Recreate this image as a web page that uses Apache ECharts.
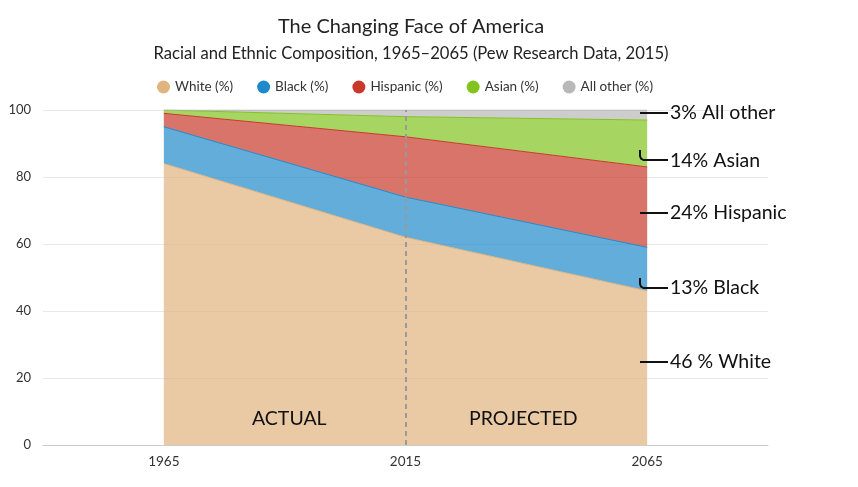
<!DOCTYPE html>
<html>
<head>
<meta charset="utf-8">
<script src="https://cdn.jsdelivr.net/npm/echarts@6/dist/echarts.min.js"></script>
<style>
  html, body { margin: 0; padding: 0; background: #fff; }
  #main { width: 858px; height: 487px; }
</style>
</head>
<body>
<div id="main"></div>
<script>
var years = ['1965', '2015', '2065'];
var white = [84, 62, 46];
var black = [11, 12, 13];
var hispanic = [4, 18, 24];
var asian = [1, 6, 14];
var other = [0, 2, 3];

var font = 'Lato, "Noto Sans", sans-serif';
var myChart = echarts.init(document.getElementById('main'));

function layer(name, data, color) {
  return {
    name: name,
    type: 'line',
    stack: 'total',
    data: data,
    symbol: 'none',
    lineStyle: { width: 1, color: color },
    itemStyle: { color: color },
    areaStyle: { color: color, opacity: 0.7 }
  };
}

var series = [
  layer('White (%)', white, '#dfb47f'),
  layer('Black (%)', black, '#1f8acb'),
  layer('Hispanic (%)', hispanic, '#c8392b'),
  layer('Asian (%)', asian, '#82c31f'),
  layer('All other (%)', other, '#b8b8b8')
];
series[0].markLine = {
  silent: true,
  symbol: 'none',
  label: { show: false },
  lineStyle: { color: '#999', type: [5, 4], width: 2 },
  data: [{ xAxis: '2015' }]
};

// little hooked connectors used by the right-hand annotations
var hook = function (y) {
  return {
    type: 'polyline', z: 100,
    shape: { points: [[640, y - 10], [640, y - 4], [641, y - 1.5], [643.5, y], [668, y]] },
    style: { stroke: '#111', lineWidth: 2, fill: null }
  };
};
var tick = function (y) {
  return { type: 'line', z: 100, shape: { x1: 640, y1: y, x2: 668, y2: y }, style: { stroke: '#111', lineWidth: 2 } };
};
var annoText = function (x, y, t, size) {
  return { type: 'text', z: 100, x: x, y: y, style: { text: t, font: size + 'px ' + font, fill: '#111', verticalAlign: 'middle' } };
};

option = {
  animation: false,
  title: {
    text: 'The Changing Face of America',
    subtext: 'Racial and Ethnic Composition, 1965\u20132065 (Pew Research Data, 2015)',
    left: 406,
    textAlign: 'center',
    top: 12,
    itemGap: 8,
    textStyle: { fontFamily: font, fontSize: 20, fontWeight: 'normal', color: '#222' },
    subtextStyle: { fontFamily: font, fontSize: 16.6, color: '#222' }
  },
  legend: {
    top: 75,
    left: 152,
    icon: 'circle',
    itemWidth: 13,
    itemHeight: 13,
    itemGap: 24,
    textStyle: { fontFamily: font, fontSize: 13.5, color: '#333' }
  },
  grid: { left: 43, right: 90, top: 110, bottom: 42 },
  xAxis: {
    type: 'category',
    data: years,
    boundaryGap: true,
    axisLine: { lineStyle: { color: '#ccc' } },
    axisTick: { show: false },
    axisLabel: { fontFamily: font, fontSize: 13.5, color: '#333', margin: 10 }
  },
  yAxis: {
    type: 'value',
    min: 0,
    max: 100,
    interval: 20,
    axisLine: { show: false },
    axisTick: { show: false },
    axisLabel: { fontFamily: font, fontSize: 13, color: '#333', margin: 12 },
    splitLine: { lineStyle: { color: '#e8e8e8' } }
  },
  series: series,
  graphic: [
    annoText(252, 419, 'ACTUAL', 19.5),
    annoText(469, 419, 'PROJECTED', 19.5),
    tick(113),
    hook(160),
    tick(213),
    hook(288),
    tick(362),
    annoText(670, 113, '3% All other', 19.5),
    annoText(670, 161, '14% Asian', 19.5),
    annoText(670, 213, '24% Hispanic', 19.5),
    annoText(670, 288, '13% Black', 19.5),
    annoText(670, 362, '46 % White', 19.5)
  ]
};

if (option && typeof option === 'object') {
  myChart.setOption(option);
}
</script>
</body>
</html>
